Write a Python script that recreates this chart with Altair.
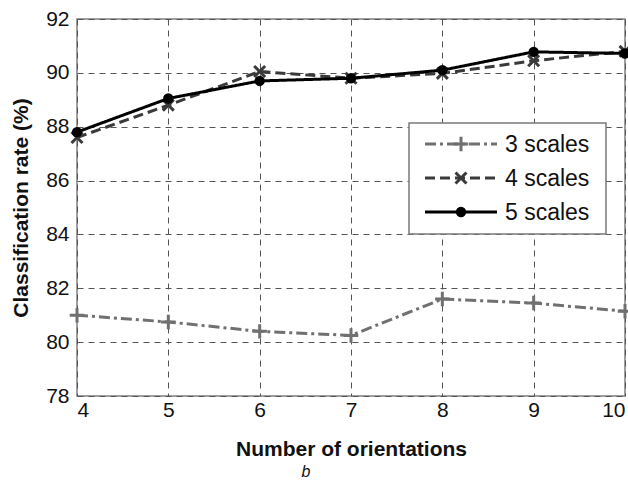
import altair as alt
import pandas as pd

# Number of Gabor orientations on the x axis
orientations = [4, 5, 6, 7, 8, 9, 10]

# Classification rate (%) for each number of scales
rate_3_scales = [81.0, 80.75, 80.4, 80.25, 81.6, 81.45, 81.15]
rate_4_scales = [87.6, 88.8, 90.05, 89.8, 89.98, 90.45, 90.8]
rate_5_scales = [87.8, 89.05, 89.7, 89.8, 90.1, 90.78, 90.72]

series_names = ["3 scales", "4 scales", "5 scales"]
series_values = [rate_3_scales, rate_4_scales, rate_5_scales]

y_ticks = [78, 80, 82, 84, 86, 88, 90, 92]
x_ticks = orientations

FONT = "Liberation Sans"
W, H = 548, 377

PLUS = "M-1,0L1,0M0,-1L0,1"
CROSS = "M-1,-1L1,1M-1,1L1,-1"

styles = {
    "3 scales": dict(color="#707070", dash=[11, 4, 3, 4], shape=PLUS, size=210, filled=False, sw=3),
    "4 scales": dict(color="#3a3a3a", dash=[10, 5], shape=CROSS, size=120, filled=False, sw=3),
    "5 scales": dict(color="#000000", dash=[1, 0], shape="circle", size=55, filled=True, sw=3),
}

x_scale = alt.Scale(domain=[4, 10], nice=False, zero=False)
y_scale = alt.Scale(domain=[78, 92], nice=False, zero=False)

x_axis = alt.Axis(
    values=x_ticks, title="Number of orientations", grid=True, ticks=False,
    labelPadding=3, titlePadding=18, format="d",
)
y_axis = alt.Axis(
    values=y_ticks, title="Classification rate (%)", grid=True, ticks=False,
    labelPadding=8, titlePadding=14, format="d",
)


def xy():
    return dict(
        x=alt.X("orientations:Q", scale=x_scale, axis=x_axis),
        y=alt.Y("rate:Q", scale=y_scale, axis=y_axis),
    )


base_df = pd.DataFrame({"orientations": orientations, "rate": rate_5_scales})

layers = []
for name, vals in zip(series_names, series_values):
    st = styles[name]
    df = pd.DataFrame({"orientations": orientations, "rate": vals, "series": name})
    line = alt.Chart(df).mark_line(
        color=st["color"], strokeDash=st["dash"], strokeWidth=st["sw"]
    ).encode(**xy())
    if st["filled"]:
        pts = alt.Chart(df).mark_point(
            shape=st["shape"], size=st["size"], filled=True,
            fill=st["color"], stroke=st["color"], strokeWidth=3, opacity=1,
        ).encode(**xy())
    else:
        pts = alt.Chart(df).mark_point(
            shape=st["shape"], size=st["size"], filled=False,
            stroke=st["color"], strokeWidth=3, opacity=1,
        ).encode(**xy())
    layers += [line, pts]

# Legend box
legend_box = alt.Chart(base_df.head(1)).mark_rect(
    fill="white", stroke="#7a7a7a", strokeWidth=1.5
).encode(
    x=alt.value(332), x2=alt.value(529), y=alt.value(104), y2=alt.value(215)
)
layers.append(legend_box)

row_y = [125, 159, 193]
for name, ry in zip(series_names, row_y):
    st = styles[name]
    sample = alt.Chart(base_df.head(1)).mark_rule(
        color=st["color"], strokeDash=st["dash"], strokeWidth=st["sw"]
    ).encode(x=alt.value(348), x2=alt.value(420), y=alt.value(ry))
    if st["filled"]:
        marker = alt.Chart(base_df.head(1)).mark_point(
            shape=st["shape"], size=st["size"], filled=True,
            fill=st["color"], stroke=st["color"], strokeWidth=3, opacity=1,
        ).encode(x=alt.value(384), y=alt.value(ry))
    else:
        marker = alt.Chart(base_df.head(1)).mark_point(
            shape=st["shape"], size=st["size"], filled=False,
            stroke=st["color"], strokeWidth=3, opacity=1,
        ).encode(x=alt.value(384), y=alt.value(ry))
    label = alt.Chart(base_df.head(1)).mark_text(
        text=name, font=FONT, fontSize=23, align="left", baseline="middle", color="#111"
    ).encode(x=alt.value(428), y=alt.value(ry + 1))
    layers += [sample, marker, label]

# Sub-figure caption
caption = alt.Chart(base_df.head(1)).mark_text(
    text="b", font=FONT, fontSize=16, fontStyle="italic", align="center",
    baseline="middle", color="#111"
).encode(x=alt.value(229), y=alt.value(453))
layers.append(caption)

chart = alt.layer(*layers).properties(
    width=W, height=H,
    autosize=alt.AutoSizeParams(type="none"),
    padding={"left": 77, "top": 19, "right": 3, "bottom": 88},
    background="white",
).configure_view(
    stroke="#808080", strokeWidth=1.5
).configure_axis(
    labelFont=FONT, labelFontSize=21, labelColor="#111",
    titleFont=FONT, titleFontSize=21, titleFontWeight="bold", titleColor="#111",
    domain=False,
    gridColor="#555555", gridDash=[6, 5], gridWidth=1, gridOpacity=1,
)

chart.save("out.html", embed_options={"renderer": "svg", "actions": False})
